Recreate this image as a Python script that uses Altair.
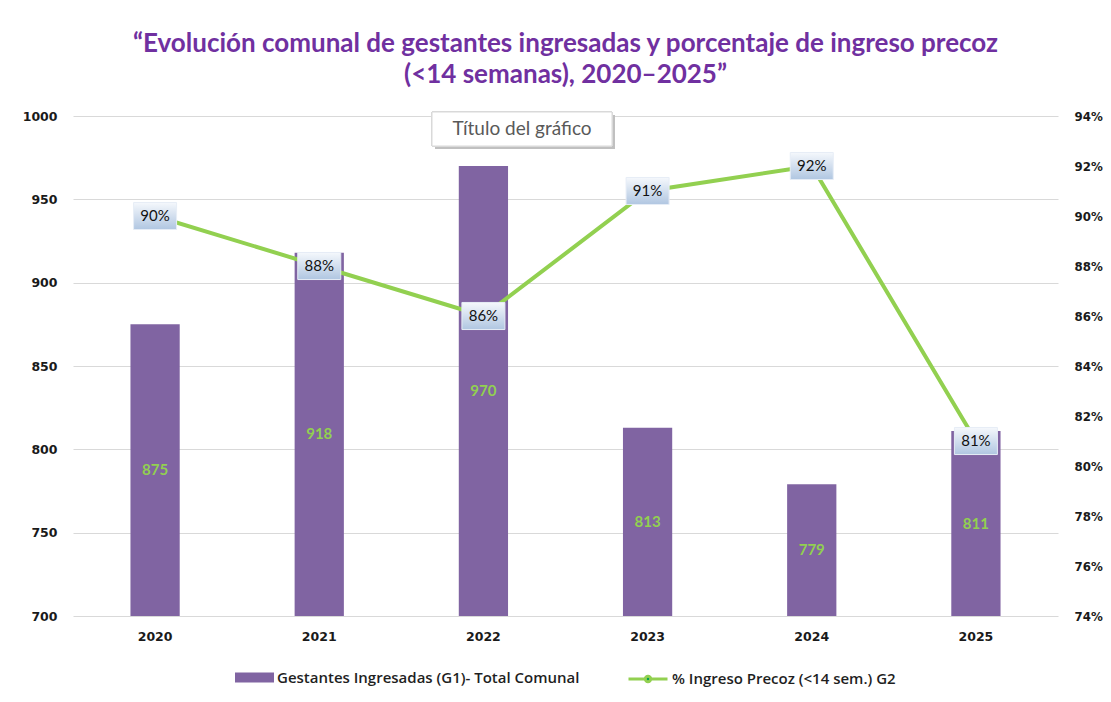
import altair as alt
import pandas as pd

years = ["2020", "2021", "2022", "2023", "2024", "2025"]
gestantes = [875, 918, 970, 813, 779, 811]
precoz = [90, 88, 86, 91, 92, 81]
left_ticks = [700, 750, 800, 850, 900, 950, 1000]
right_ticks = [74, 76, 78, 80, 82, 84, 86, 88, 90, 92, 94]
series_bar = "Gestantes Ingresadas (G1)- Total Comunal"
series_line = "% Ingreso Precoz (<14 sem.) G2"
title_lines = [
    "\u201cEvolución comunal de gestantes ingresadas y porcentaje de ingreso precoz",
    "(<14 semanas), 2020\u20132025\u201d",
]
annotation = ["Título del gráfico"]

df = pd.DataFrame({"year": years, "g": gestantes, "p": precoz,
                   "s1": series_bar, "s2": series_line})
base = alt.Chart(df)

AX_FONT = "DejaVu Sans"
LEG_FONT = "Open Sans"
x = alt.X("year:N", title=None,
          scale=alt.Scale(paddingInner=0.7, paddingOuter=0.35),
          axis=alt.Axis(labelAngle=0, ticks=False, domain=False, grid=False,
                        labelFont=AX_FONT, labelFontWeight="bold",
                        labelFontSize=12.5, labelColor="#1a1a1a",
                        labelPadding=14))

yl_axis = alt.Axis(values=left_ticks, title=None, ticks=False, domain=False,
                   format="d",
                   grid=True, gridColor="#d9d9d9", gridWidth=1,
                   labelPadding=16, labelFont=AX_FONT, labelFontWeight="bold",
                   labelFontSize=12.5, labelColor="#1a1a1a")
yl_scale = alt.Scale(domain=[700, 1000], zero=False, nice=False)

bars = base.mark_bar(color="#8064a2").encode(
    x=x,
    y=alt.Y("g:Q", scale=yl_scale, axis=yl_axis),
    y2=alt.datum(700),
    color=alt.Color("s1:N", scale=alt.Scale(range=["#8064a2"]),
                    legend=alt.Legend(orient="none", legendX=162, legendY=542,
                                      title=None, labelLimit=500,
                                      symbolType="M-1,-0.26L1,-0.26L1,0.26L-1,0.26Z",
                                      symbolSize=1521, symbolStrokeWidth=0,
                                      labelFont=LEG_FONT, labelFontSize=15,
                                      labelFontWeight=600,
                                      labelColor="#1f1f1f", labelOffset=3)),
)

bar_text = base.transform_calculate(mid="(datum.g + 700) / 2").mark_text(
    font="Lato", fontSize=15, fontWeight="bold", color="#92d050"
).encode(
    x=x,
    y=alt.Y("mid:Q", scale=yl_scale, axis=yl_axis),
    text="g:Q",
)

shadow = base.mark_rect(color="#bfbfbf", opacity=0.6).encode(
    x=alt.value(362), x2=alt.value(542), y=alt.value(-1), y2=alt.value(33))
box = base.mark_rect(color="#ffffff", stroke="#d9d9d9", strokeWidth=1).encode(
    x=alt.value(359), x2=alt.value(539), y=alt.value(-4), y2=alt.value(30))
ann = alt.Chart(pd.DataFrame({"t": annotation})).mark_text(
    font="Lato", fontSize=19, color="#595959"
).encode(x=alt.value(449), y=alt.value(13), text="t:N")

left = alt.layer(bars, bar_text, shadow, box, ann)

yr_axis = alt.Axis(orient="right", values=right_ticks, title=None, ticks=False,
                   domain=False, grid=False, labelPadding=16,
                   labelExpr="datum.value + '%'", labelFont=AX_FONT,
                   labelFontWeight="bold", labelFontSize=11.8,
                   labelColor="#1a1a1a")
yr_scale = alt.Scale(domain=[74, 94], zero=False, nice=False)
yr = alt.Y("p:Q", scale=yr_scale, axis=yr_axis)

line_symbol = ("M-1,0L-0.14,0A0.14,0.14 0 1 1 0.14,0L1,0"
               "M0.14,0A0.14,0.14 0 1 1 -0.14,0")
line = base.mark_line(strokeWidth=4).encode(
    x=x, y=yr,
    stroke=alt.Stroke("s2:N", scale=alt.Scale(range=["#92d050"]),
                      legend=alt.Legend(orient="none", legendX=554, legendY=542,
                                        title=None, labelLimit=500,
                                        symbolType=line_symbol,
                                        symbolFillColor="#00a050",
                                        symbolSize=1521, symbolStrokeWidth=3,
                                        labelFont=LEG_FONT, labelFontSize=15,
                                        labelFontWeight=600,
                                        labelColor="#1f1f1f", labelOffset=3)),
)

grad = alt.Gradient(gradient="linear",
                    stops=[alt.GradientStop(color="#f5f8fc", offset=0),
                           alt.GradientStop(color="#b0c6e1", offset=1)],
                    x1=0, x2=0, y1=0, y2=1)
boxes = base.mark_point(shape="M-1,-0.63L1,-0.63L1,0.63L-1,0.63Z", size=1849,
                        filled=True, fill=grad, stroke="#e6edf6",
                        strokeWidth=1, opacity=1).encode(x=x, y=yr)

pct = base.transform_calculate(lbl="datum.p + '%'").mark_text(
    font="Lato", fontSize=15, color="#111111"
).encode(x=x, y=yr, text="lbl:N")

right = alt.layer(line, boxes, pct)

chart = alt.layer(left, right).resolve_scale(y="independent").properties(
    width=985, height=500,
    title=alt.TitleParams(text=title_lines, font="Lato", fontSize=26,
                          fontWeight="bold", color="#7030a0", anchor="middle",
                          offset=22, lineHeight=31),
    autosize=alt.AutoSizeParams(type="none"),
    padding={"left": 65, "top": 108, "right": 45, "bottom": 78},
    background="#ffffff",
).configure_view(
    stroke=None, strokeWidth=0
).configure_axis(
    domain=False
).configure_axisBand(
    grid=False
)

chart.save("out.html", embed_options={"renderer": "svg", "actions": False})
